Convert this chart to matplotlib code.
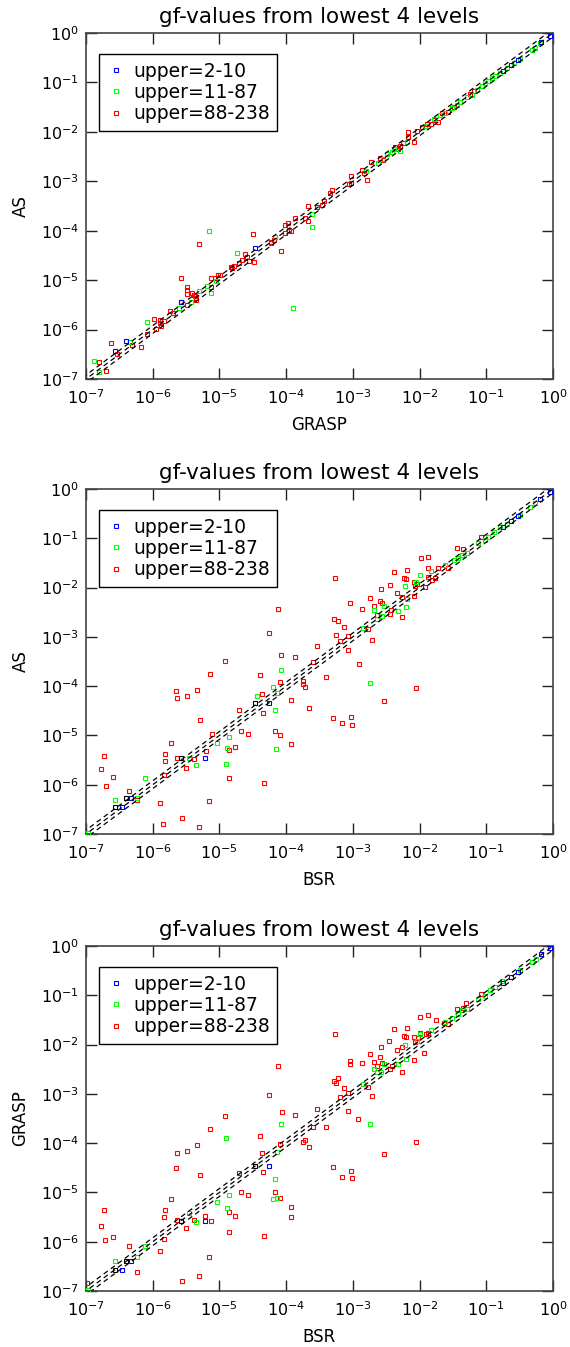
import numpy as np
import matplotlib
matplotlib.use("Agg")
import matplotlib.pyplot as plt

plt.rcParams['font.family'] = ['DejaVu Sans']
plt.rcParams['mathtext.fontset'] = 'dejavusans'

title_text = 'gf-values from lowest 4 levels'
group_labels = ['upper=2-10', 'upper=11-87', 'upper=88-238']
group_colors = ['#0000ff', '#00ff00', '#ff0000']
tick_exponents = [-7, -6, -5, -4, -3, -2, -1, 0]
ratio_lines = [1 / 1.2, 1.0, 1.2]

# ---- Panel 1: GRASP (x) vs AS (y), values as log10(gf) pairs ----
p1_blue = [(-6.57, -6.43), (-6.40, -6.24), (-5.58, -5.44), (-4.46, -4.35), (-0.75, -0.77),
           (-0.63, -0.64), (-0.53, -0.54), (-0.18, -0.19), (-0.04, -0.06)]
p1_green = [(-6.88, -6.64), (-6.81, -6.85), (-6.34, -6.25), (-6.09, -5.84), (-5.61, -5.56),
            (-5.42, -5.44), (-5.31, -5.22), (-5.18, -5.12), (-5.12, -5.25), (-5.05, -5.02),
            (-5.15, -4.00), (-4.73, -4.46), (-4.17, -4.13), (-3.90, -5.56), (-3.61, -3.66),
            (-3.61, -3.92), (-2.80, -2.80), (-2.62, -2.63), (-2.55, -2.55), (-2.49, -2.45),
            (-2.42, -2.40), (-2.38, -2.34), (-2.30, -2.38), (-2.19, -2.20), (-1.92, -1.88),
            (-1.79, -1.74), (-1.69, -1.66), (-1.62, -1.62), (-1.52, -1.52), (-1.44, -1.45),
            (-1.39, -1.39), (-1.29, -1.29), (-1.22, -1.25), (-1.14, -1.15), (-1.07, -1.08),
            (-1.02, -1.02), (-0.97, -0.97), (-0.92, -0.91), (-0.87, -0.87), (-0.79, -0.81),
            (-0.69, -0.71), (-0.59, -0.61), (-0.49, -0.53), (-0.32, -0.34), (-0.27, -0.31),
            (-0.19, -0.20)]
p1_red = [(-6.63, -6.28), (-6.81, -6.65), (-6.70, -6.83), (-6.54, -6.49), (-6.31, -6.31),
          (-6.18, -6.35), (-6.09, -6.09), (-5.955, -5.99), (-5.98, -5.79), (-5.89, -5.81),
          (-5.89, -5.87), (-5.88, -5.92), (-5.83, -5.83), (-5.74, -5.62), (-5.69, -5.66),
          (-5.58, -4.95), (-5.49, -5.13), (-5.49, -5.20), (-5.49, -5.29), (-5.41, -5.27),
          (-5.38, -5.30), (-5.36, -5.33), (-5.35, -5.37), (-5.35, -5.40), (-5.57, -5.44),
          (-5.49, -5.50), (-5.31, -4.26), (-5.13, -4.96), (-5.13, -5.13), (-5.07, -4.95),
          (-5.02, -4.89), (-4.99, -4.89), (-4.83, -4.73), (-4.81, -4.75), (-4.78, -4.71),
          (-4.71, -4.65), (-4.66, -4.59), (-4.61, -4.48), (-4.59, -4.54), (-4.56, -4.61),
          (-4.48, -4.63), (-4.50, -4.07), (-4.23, -4.25), (-4.22, -4.22), (-4.18, -4.19),
          (-4.17, -4.13), (-4.08, -4.41), (-4.02, -4.05), (-4.02, -3.88), (-3.97, -3.85),
          (-3.95, -3.98), (-3.92, -4.00), (-3.86, -3.75), (-3.72, -3.74), (-3.67, -3.50),
          (-3.67, -3.80), (-3.54, -3.53), (-3.46, -3.48), (-3.43, -3.39), (-3.34, -3.24),
          (-3.31, -3.17), (-3.06, -3.05), (-3.03, -3.04), (-2.79, -2.97), (-3.03, -2.90),
          (-2.87, -2.77), (-2.84, -2.84), (-2.73, -2.60), (-2.59, -2.53), (-2.55, -2.57),
          (-2.37, -2.30), (-2.33, -2.34), (-2.30, -2.28), (-2.25, -2.23), (-2.17, -2.01),
          (-2.18, -2.11), (-2.09, -2.20), (-2.04, -1.98), (-1.97, -1.91), (-1.89, -1.84),
          (-1.83, -1.84), (-1.78, -1.76), (-1.73, -1.80), (-1.67, -1.62), (-1.57, -1.59),
          (-1.49, -1.49), (-1.39, -1.39), (-1.25, -1.23), (-1.19, -1.18)]
p1_black = []

# ---- Panel 2: BSR (x) vs AS (y) ----
p2_blue = [(-6.46, -6.45), (-6.32, -6.26), (-5.22, -5.46), (-4.26, -4.35), (-0.75, -0.78),
           (-0.63, -0.65), (-0.53, -0.55), (-0.19, -0.20), (-0.04, -0.07)]
p2_green = [(-6.57, -6.30), (-6.97, -6.97), (-6.23, -6.26), (-6.11, -5.86), (-5.45, -5.45),
            (-5.35, -5.59), (-5.03, -5.15), (-4.86, -5.04), (-4.89, -5.25), (-4.90, -5.58),
            (-4.44, -4.19), (-4.20, -4.01), (-4.13, -4.13), (-4.17, -4.48), (-4.15, -5.28),
            (-4.08, -3.67), (-2.74, -3.94), (-2.85, -2.82), (-2.64, -2.64), (-2.69, -2.46),
            (-2.53, -2.37), (-2.57, -2.57), (-2.33, -2.47), (-2.21, -2.39), (-2.19, -2.23),
            (-2.22, -1.97), (-2.05, -1.88), (-1.99, -1.75), (-1.83, -1.67), (-1.62, -1.54),
            (-1.49, -1.44), (-1.42, -1.39), (-1.37, -1.34), (-1.29, -1.29), (-1.12, -1.09),
            (-1.02, -1.03), (-0.97, -0.97), (-0.89, -0.87), (-0.79, -0.78), (-0.69, -0.70),
            (-0.49, -0.53), (-0.34, -0.36), (-0.27, -0.29)]
p2_red = [(-6.73, -5.41), (-6.78, -5.68), (-6.60, -5.84), (-6.70, -6.03), (-6.36, -6.13),
          (-6.23, -6.31), (-5.89, -6.38), (-5.84, -6.80), (-5.56, -6.68), (-5.31, -6.86),
          (-5.16, -6.34), (-5.835, -5.80), (-5.82, -5.52), (-5.82, -5.37), (-5.73, -5.15),
          (-5.64, -5.46), (-5.50, -5.66), (-5.38, -5.48), (-5.20, -5.31), (-5.11, -4.97),
          (-5.29, -4.69), (-5.65, -4.09), (-5.63, -4.24), (-5.49, -4.21), (-5.34, -4.08),
          (-5.14, -3.75), (-4.91, -3.49), (-4.85, -5.30), (-4.85, -5.87), (-4.77, -5.23),
          (-4.70, -4.48), (-4.68, -4.91), (-4.57, -4.97), (-4.39, -3.77), (-4.36, -4.15),
          (-4.34, -4.55), (-4.33, -5.96), (-4.16, -4.91), (-4.09, -4.99), (-4.09, -3.91),
          (-3.92, -4.28), (-3.92, -5.17), (-4.12, -2.44), (-4.26, -2.93), (-4.07, -3.37),
          (-3.86, -3.40), (-3.27, -1.81), (-3.04, -2.31), (-2.87, -2.44), (-2.74, -2.21),
          (-2.68, -2.37), (-2.59, -2.27), (-2.57, -2.32), (-2.58, -2.02), (-2.45, -1.94),
          (-2.38, -1.68), (-2.34, -2.10), (-2.24, -1.81), (-2.19, -1.65), (-2.20, -1.82),
          (-2.09, -1.88), (-2.07, -1.96), (-2.04, -1.92), (-1.98, -1.40), (-1.88, -1.38),
          (-1.88, -1.61), (-1.88, -1.78), (-1.92, -1.98), (-1.82, -1.85), (-1.77, -1.80),
          (-2.26, -2.19), (-2.26, -2.60), (-2.09, -2.17), (-2.44, -2.54), (-2.43, -2.46),
          (-2.64, -2.55), (-2.77, -2.85), (-2.72, -3.06), (-2.91, -3.56), (-3.07, -3.27),
          (-3.08, -2.98), (-3.14, -2.80), (-3.20, -3.09), (-3.26, -2.96), (-3.22, -2.67),
          (-3.29, -2.63), (-3.53, -3.19), (-3.59, -3.50), (-1.72, -1.60), (-1.57, -1.60),
          (-1.44, -1.20), (-1.35, -1.22), (-1.08, -0.97), (-3.41, -3.82), (-3.75, -3.90),
          (-3.75, -3.95), (-3.72, -4.01), (-3.66, -4.44), (-3.30, -4.65), (-3.16, -4.75),
          (-3.03, -4.62), (-3.02, -4.78), (-2.53, -4.30), (-2.05, -4.03)]
p2_black = [(-6.57, -6.45), (-6.40, -6.26), (-5.58, -5.46), (-4.46, -4.35)]

# ---- Panel 3: BSR (x) vs GRASP (y) ----
p3_blue = [(-6.46, -6.57), (-6.33, -6.39), (-5.22, -5.57), (-4.26, -4.46), (-0.75, -0.75),
           (-0.63, -0.62), (-0.53, -0.52), (-0.18, -0.17), (-0.04, -0.05)]
p3_green = [(-6.57, -6.39), (-6.97, -6.98), (-6.24, -6.32), (-6.11, -6.08), (-5.45, -5.41),
            (-5.35, -5.60), (-5.03, -5.19), (-4.86, -5.05), (-4.89, -5.31), (-4.90, -3.90),
            (-4.17, -4.73), (-4.20, -5.14), (-4.14, -5.11), (-4.13, -4.17), (-4.08, -3.61),
            (-2.74, -3.61), (-2.85, -2.80), (-2.69, -2.50), (-2.64, -2.56), (-2.53, -2.40),
            (-2.58, -2.55), (-2.33, -2.40), (-2.21, -2.30), (-2.22, -2.01), (-2.04, -1.92),
            (-1.99, -1.79), (-1.83, -1.71), (-1.62, -1.54), (-1.52, -1.47), (-1.42, -1.37),
            (-1.37, -1.30), (-1.29, -1.27), (-1.12, -1.08), (-1.02, -1.01), (-0.94, -0.89),
            (-0.87, -0.83), (-0.77, -0.71), (-0.49, -0.49), (-0.32, -0.32), (-0.26, -0.26)]
p3_red = [(-6.73, -5.36), (-6.78, -5.68), (-6.71, -5.97), (-6.60, -5.90), (-6.98, -6.84),
          (-6.36, -6.08), (-6.23, -6.61), (-5.89, -6.18), (-5.835, -5.95), (-5.83, -5.49),
          (-5.82, -5.36), (-5.73, -5.13), (-5.65, -4.50), (-5.63, -4.19), (-5.64, -5.55),
          (-5.50, -5.73), (-5.56, -6.80), (-5.49, -4.16), (-5.34, -4.03), (-5.29, -4.65),
          (-5.31, -6.70), (-5.38, -5.56), (-5.21, -5.48), (-5.12, -5.57), (-5.16, -6.30),
          (-5.14, -3.71), (-4.91, -3.44), (-4.85, -5.40), (-4.85, -5.81), (-4.77, -5.48),
          (-4.70, -4.60), (-4.68, -4.99), (-4.57, -5.05), (-4.39, -3.85), (-4.36, -4.19),
          (-4.34, -4.58), (-4.33, -5.88), (-4.16, -5.00), (-4.09, -5.12), (-4.09, -4.02),
          (-4.06, -3.36), (-3.92, -5.30), (-3.92, -5.49), (-3.86, -3.43), (-4.12, -2.43),
          (-4.26, -3.02), (-3.27, -1.79), (-3.04, -2.33), (-3.04, -2.40), (-2.87, -2.38),
          (-2.74, -2.19), (-2.68, -2.36), (-2.59, -2.25), (-2.58, -2.04), (-2.46, -1.92),
          (-2.38, -1.69), (-2.34, -2.10), (-2.27, -2.55), (-2.24, -1.82), (-2.19, -1.67),
          (-2.20, -1.84), (-2.09, -1.84), (-2.07, -1.94), (-2.03, -1.87), (-2.09, -2.31),
          (-1.99, -1.44), (-1.88, -1.39), (-1.76, -1.50), (-1.99, -1.76), (-1.90, -1.79),
          (-1.87, -1.76), (-1.93, -2.18), (-2.26, -2.04), (-2.44, -2.50), (-2.42, -2.44),
          (-2.57, -2.37), (-2.64, -2.43), (-2.77, -2.86), (-2.72, -3.04), (-3.08, -2.99),
          (-3.14, -2.88), (-3.20, -3.07), (-3.26, -2.77), (-3.22, -2.67), (-3.29, -2.73),
          (-3.08, -3.34), (-2.93, -3.52), (-3.53, -3.31), (-1.64, -1.57), (-1.57, -1.59),
          (-1.44, -1.27), (-1.35, -1.25), (-1.30, -1.16), (-1.08, -0.98), (-3.41, -3.67),
          (-3.74, -3.97), (-3.72, -3.94), (-3.75, -3.98), (-3.66, -4.07), (-3.59, -3.67),
          (-3.30, -4.48), (-3.16, -4.68), (-3.03, -4.56), (-3.02, -4.71), (-2.53, -4.23),
          (-2.05, -3.97)]
p3_black = [(-6.57, -6.57), (-6.40, -6.39), (-5.58, -5.57), (-4.46, -4.46)]

panels = [
    ('GRASP', 'AS', p1_blue, p1_green, p1_red, p1_black),
    ('BSR', 'AS', p2_blue, p2_green, p2_red, p2_black),
    ('BSR', 'GRASP', p3_blue, p3_green, p3_red, p3_black),
]

W, H = 570, 1347
fig = plt.figure(figsize=(W / 100, H / 100), dpi=100)

# axes boxes in pixels: left, top, right, bottom
boxes = [(86, 33, 553, 379), (86, 489, 553, 834), (86, 946, 553, 1291)]

tick_labels = [r'$10^{%d}$' % e for e in tick_exponents]
tick_vals = [10.0 ** e for e in tick_exponents]

for (xlab, ylab, blue, green, red, black), (l, t, r, b) in zip(panels, boxes):
    ax = fig.add_axes([l / W, 1 - b / H, (r - l) / W, (b - t) / H])
    ax.set_xscale('log')
    ax.set_yscale('log')
    ax.set_xlim(1e-7, 1)
    ax.set_ylim(1e-7, 1)

    handles = []
    for data, color, lab, z in zip([blue, green, red], group_colors, group_labels, [4, 3, 2]):
        arr = np.array(data)
        h, = ax.plot(10.0 ** arr[:, 0], 10.0 ** arr[:, 1], linestyle='none', marker='s',
                     markersize=3.2, markeredgewidth=0.8, markerfacecolor='none',
                     markeredgecolor=color, label=lab, zorder=z)
        handles.append(h)
    if black:
        arr = np.array(black)
        ax.plot(10.0 ** arr[:, 0], 10.0 ** arr[:, 1], linestyle='none', marker='s',
                markersize=3.2, markeredgewidth=0.8, markerfacecolor='none',
                markeredgecolor='black', zorder=5)

    xs = np.array([1e-8, 10.0])
    for f in ratio_lines:
        ax.plot(xs, xs * f, color='black', linewidth=0.9, linestyle=(0, (4, 3)), zorder=6)

    ax.xaxis.set_major_locator(matplotlib.ticker.FixedLocator(tick_vals))
    ax.yaxis.set_major_locator(matplotlib.ticker.FixedLocator(tick_vals))
    ax.xaxis.set_minor_locator(matplotlib.ticker.NullLocator())
    ax.yaxis.set_minor_locator(matplotlib.ticker.NullLocator())
    ax.set_xticklabels(tick_labels)
    ax.set_yticklabels(tick_labels)
    ax.tick_params(which='major', direction='in', length=8, width=1, top=True, right=True,
                   labelsize=11.5, pad=5, colors='#222222', labelcolor='black')
    ax.tick_params(axis='x', pad=7)
    for s in ax.spines.values():
        s.set_linewidth(1.2)
        s.set_color('#444444')

    ax.set_title(title_text, fontsize=15.5, pad=7)
    ax.set_xlabel(xlab, fontsize=12, labelpad=6)
    ax.set_ylabel(ylab, fontsize=12, labelpad=8)

    leg = ax.legend(handles=handles, loc='upper left', bbox_to_anchor=(0.028, 0.939),
                    borderaxespad=0, fontsize=13.5, frameon=True, fancybox=False,
                    shadow=False, framealpha=1, edgecolor='black', borderpad=0.4,
                    labelspacing=0.13, handlelength=1.0, handletextpad=0.41, numpoints=1,
                    markerscale=1.0)
    leg.get_frame().set_linewidth(1.0)
    leg.set_zorder(10)

fig.savefig('out.png', dpi=100)
